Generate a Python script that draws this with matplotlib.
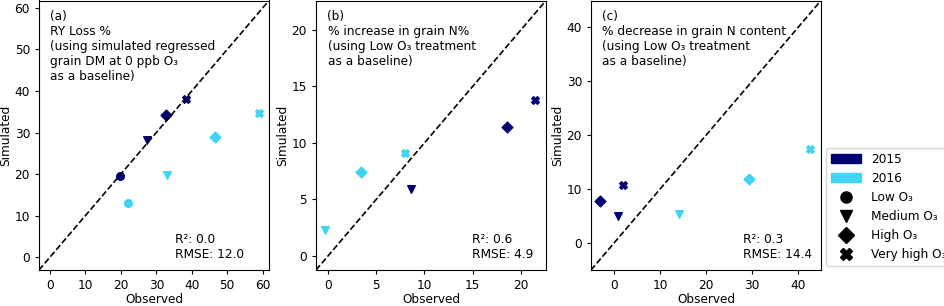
import matplotlib.pyplot as plt
from matplotlib.patches import Patch
from matplotlib.lines import Line2D

plt.rcParams['font.size'] = 8.7

# cores por ano
cor_2015 = '#000072'
cor_2016 = '#40d4f4'

niveis = ['Low O₃', 'Medium O₃', 'High O₃', 'Very high O₃']
marcadores = ['o', 'v', 'D', 'X']

# (a) RY loss %
a_obs_2015 = [19.8, 27.3, 32.7, 38.3]
a_sim_2015 = [19.6, 28.2, 34.2, 38.1]
a_obs_2016 = [22.0, 32.9, 46.7, 58.9]
a_sim_2016 = [13.1, 19.7, 29.0, 34.7]

# (b) % increase in grain N% (sem Low, baseline)
b_obs_2015 = [None, 8.6, 18.6, 21.5]
b_sim_2015 = [None, 5.9, 11.4, 13.8]
b_obs_2016 = [None, -0.3, 3.4, 8.0]
b_sim_2016 = [None, 2.3, 7.4, 9.1]

# (c) % decrease in grain N content
c_obs_2015 = [None, 0.8, -3.0, 2.0]
c_sim_2015 = [None, 5.1, 7.8, 10.7]
c_obs_2016 = [None, 14.1, 29.4, 42.6]
c_sim_2016 = [None, 5.3, 11.9, 17.4]

titulos = [
    '(a)\nRY Loss %\n(using simulated regressed\ngrain DM at 0 ppb O₃\nas a baseline)',
    '(b)\n% increase in grain N%\n(using Low O₃ treatment\nas a baseline)',
    '(c)\n% decrease in grain N content\n(using Low O₃ treatment\nas a baseline)',
]
estatisticas = ['R²: 0.0\nRMSE: 12.0', 'R²: 0.6\nRMSE: 4.9', 'R²: 0.3\nRMSE: 14.4']
limites = [(-3.1, 61.8), (-1.25, 22.6), (-5.0, 45.0)]
ticks = [range(0, 61, 10), range(0, 21, 5), range(0, 41, 10)]
pos_stats = [(0.59, 0.035), (0.68, 0.035), (0.66, 0.035)]
lefts = [39, 316, 591]

dados = [
    (a_obs_2015, a_sim_2015, a_obs_2016, a_sim_2016),
    (b_obs_2015, b_sim_2015, b_obs_2016, b_sim_2016),
    (c_obs_2015, c_sim_2015, c_obs_2016, c_sim_2016),
]

W, H = 945, 306
fig = plt.figure(figsize=(W / 100, H / 100), dpi=100)

for i in range(3):
    ax = fig.add_axes([lefts[i] / W, 36 / H, 230 / W, 269.5 / H])
    o15, s15, o16, s16 = dados[i]
    for j in range(4):
        if o15[j] is not None:
            ax.scatter(o15[j], s15[j], marker=marcadores[j], color=cor_2015, s=30, zorder=2)
        if o16[j] is not None:
            ax.scatter(o16[j], s16[j], marker=marcadores[j], color=cor_2016, s=30, zorder=2)
    lo, hi = limites[i]
    ax.plot([lo, hi], [lo, hi], 'k--', lw=1.2, zorder=3)
    ax.set_xlim(lo, hi)
    ax.set_ylim(lo, hi)
    ax.set_xticks(list(ticks[i]))
    ax.set_yticks(list(ticks[i]))
    ax.tick_params(length=3)
    ax.set_xlabel('Observed', labelpad=0.5)
    ax.set_ylabel('Simulated', labelpad=2)
    ax.text(0.05, 0.965, titulos[i], transform=ax.transAxes, va='top', ha='left')
    ax.text(pos_stats[i][0], pos_stats[i][1], estatisticas[i], transform=ax.transAxes,
            va='bottom', ha='left')

handles = [Patch(color=cor_2015, label='2015'), Patch(color=cor_2016, label='2016')]
for m, n in zip(marcadores, niveis):
    handles.append(Line2D([], [], marker=m, color='k', linestyle='', markersize=8, label=n))

fig.legend(handles=handles, loc='upper left', bbox_to_anchor=(826 / W, 1 - 148 / H),
           bbox_transform=fig.transFigure, borderaxespad=0, handlelength=2.5)

fig.savefig('out.png', dpi=100)
